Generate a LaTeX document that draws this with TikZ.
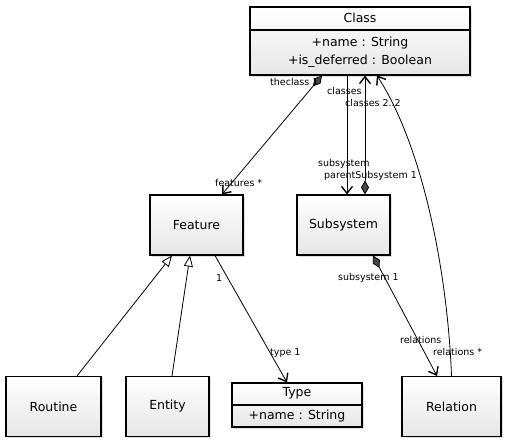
\documentclass[tikz,border=0pt]{standalone}
\usepackage{fontspec}
\setmainfont{DejaVu Sans}
\usetikzlibrary{arrows.meta, shadows, calc}
\definecolor{boxfill}{RGB}{230,230,230}
\definecolor{diafill}{RGB}{70,70,70}

\begin{document}
\begin{tikzpicture}[x=1pt, y=-1pt,
  umlbox/.style={draw, line width=1.1pt, top color=white, bottom color=boxfill,
    drop shadow={opacity=0.25, shadow xshift=2pt, shadow yshift=-2pt},
    font=\fontsize{12.5}{18}\selectfont, inner sep=0pt},
  boxtext/.style={font=\fontsize{12.5}{18}\selectfont, inner sep=0pt, align=center},
  role/.style={font=\fontsize{9.5}{11}\selectfont, inner sep=0pt, anchor=west},
  assoc/.style={line width=0.8pt},
  nav/.style={-{Straight Barb[length=7pt, width=11pt, line width=1.4pt]}},
  compnav/.style={{Diamond[fill=diafill, length=14pt, width=8pt, line width=0.8pt]}-{Straight Barb[length=7pt, width=11pt, line width=1.4pt]}},
  inherit/.style={-{Triangle[open, fill=white, length=11pt, width=9pt]}}]
  \useasboundingbox (0,0) rectangle (507,443);

  % --- Class with its attributes ---
  \node[umlbox, minimum width=220pt, minimum height=68pt] (class) at (360,41) {};
  \draw[line width=1.1pt] (class.west |- 0,30) -- (class.east |- 0,30);
  \node[boxtext] (classname) at (360,18) {Class};
  \node[boxtext] (classattr) at (360,52) {+name : String\\+is\_deferred : Boolean};

  % --- Type with its attribute ---
  \node[umlbox, minimum width=130pt, minimum height=44pt] (type) at (297,405) {};
  \draw[line width=1.1pt] (type.west |- 0,405) -- (type.east |- 0,405);
  \node[boxtext] (typename) at (297,393) {Type};
  \node[boxtext] (typeattr) at (297,416) {+name : String};

  % --- plain boxes ---
  \foreach \name/\txt/\cx/\cy/\w in {feature/Feature/196.5/225/93, subsystem/Subsystem/343.5/225/93,
      routine/Routine/53.5/406.5/95, entity/Entity/167.5/406.5/83, relation/Relation/451.5/406.5/99} {
    \node[umlbox, minimum width=\w pt, minimum height=60pt] (\name) at (\cx,\cy) {\txt};
  }

  % --- Class / Feature ---
  \draw[assoc, compnav] ([xshift=-38pt]class.south) -- ([xshift=25.5pt]feature.north);
  \node[role] (theclass) at (270,82) {theclass 1};
  \node[role] (features) at (215,183) {features *};

  % --- Class / Subsystem ---
  \draw[assoc, nav] ([xshift=-13pt]class.south) -- ([xshift=3.5pt]subsystem.north);
  \draw[assoc, compnav] ([xshift=21.5pt]subsystem.north) -- ([xshift=5pt]class.south);
  \node[role] (classesA) at (327,91) {classes};
  \node[role] (classesB) at (345,103) {classes 2..2};
  \node[role] (subsysA) at (318,164) {subsystem};
  \node[role] (parentsub) at (324,176) {parentSubsystem 1};

  % --- Relation ---
  \draw[assoc, nav] (relation.north) .. controls (448,280) and (425,150) .. ([xshift=17pt]class.south);
  \draw[assoc, compnav] ([xshift=29.5pt]subsystem.south) -- ([xshift=-14.5pt]relation.north);
  \node[role] (subsysB) at (338,278) {subsystem 1};
  \node[role] (relationsA) at (400,340) {relations};
  \node[role] (relationsB) at (433,352) {relations *};

  % --- Feature / Type ---
  \draw[assoc, nav] ([xshift=18.5pt]feature.south) -- ([xshift=-10pt]type.north);
  \node[role] (featone) at (216,278) {1};
  \node[role] (typeone) at (270,353) {type 1};

  % --- generalisation ---
  \draw[assoc, inherit] ([xshift=23.5pt]routine.north) -- ([xshift=-24.5pt]feature.south);
  \draw[assoc, inherit] ([xshift=4.5pt]entity.north) -- ([xshift=-6.5pt]feature.south);
\end{tikzpicture}
\end{document}
